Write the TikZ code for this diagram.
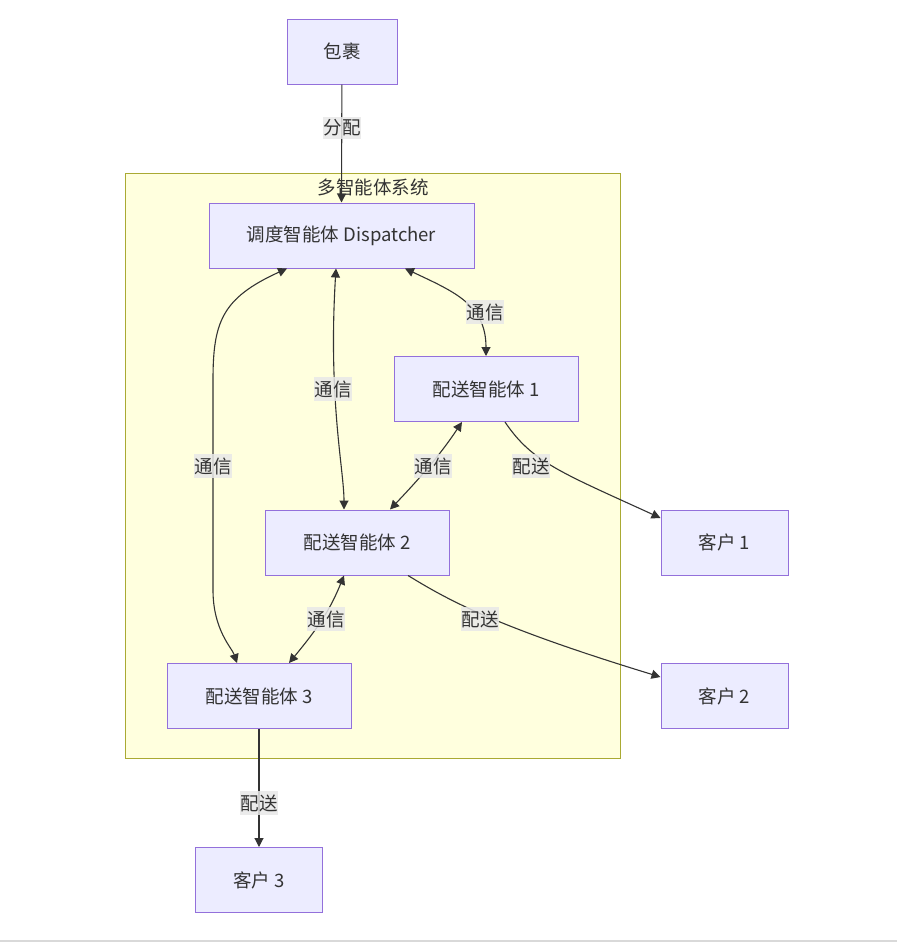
\documentclass[tikz,border=0pt]{standalone}
\usepackage{fontspec}
\setmainfont{Noto Sans CJK SC}
\usepackage{xcolor}
\usetikzlibrary{arrows.meta,positioning,calc}

\definecolor{boxfill}{HTML}{ECECFF}
\definecolor{boxline}{HTML}{9370DB}
\definecolor{groupfill}{HTML}{FFFFDE}
\definecolor{groupline}{HTML}{AAAA33}
\definecolor{edge}{HTML}{333333}
\definecolor{lblfill}{HTML}{E8E8E8}

\begin{document}
\begin{tikzpicture}[x=1pt,y=-1pt,
    box/.style={draw=boxline, fill=boxfill, line width=1pt, minimum height=65pt,
        inner sep=0pt, text=edge, font=\fontsize{18.5}{22}\selectfont},
    lbl/.style={fill=lblfill, fill opacity=0.85, text opacity=1, text=edge,
        inner xsep=0.5pt, inner ysep=3pt, font=\fontsize{18.5}{22}\selectfont},
    link/.style={draw=edge, line width=1.1pt, -{Triangle[length=9pt,width=9pt]}},
    both/.style={link, {Triangle[length=9pt,width=9pt]}-{Triangle[length=9pt,width=9pt]}}]

\useasboundingbox (0,0) rectangle (897,948);
\draw[black!15, line width=1.5pt] (0,941) -- (897,941);

% Multi-agent system group
\draw[groupline, fill=groupfill, line width=1pt] (125,173) rectangle (620,758);
\node[text=edge, font=\fontsize{18.5}{22}\selectfont] (grouptitle) at (373,187) {多智能体系统};

% Nodes
\node[box, minimum width=110pt] (parcel) at (342,51.5) {包裹};
\node[box, minimum width=265pt] (disp) at (341.5,235.5) {调度智能体 Dispatcher};
\node[box, minimum width=184pt] (agentA) at (486,389) {配送智能体 1};
\node[box, minimum width=184pt] (agentB) at (357,542.5) {配送智能体 2};
\node[box, minimum width=184pt] (agentC) at (259,696) {配送智能体 3};
\node[box, minimum width=127pt] (custA) at (724.5,542.5) {客户 1};
\node[box, minimum width=127pt] (custB) at (724.5,696) {客户 2};
\node[box, minimum width=127pt] (custC) at (259,880) {客户 3};

% Connectors
\draw[link] (parcel) -- (disp.north);
\draw[both] ([xshift=63.5pt]disp.south) .. controls (455,292) and (486,305) .. (agentA.north);
\draw[both] ([xshift=-5.5pt]disp.south) .. controls (328,400) and (344,470) .. ([xshift=-13pt]agentB.north);
\draw[both] ([xshift=-54.5pt]disp.south) .. controls (222,298) and (213,322) .. (213,380)
    -- (213,590) .. controls (213,630) and (232,648) .. ([xshift=-22pt]agentC.north);
\draw[both] ([xshift=-24pt]agentA.south) .. controls (440,455) and (420,478) .. ([xshift=33pt]agentB.north);
\draw[link] ([xshift=19pt]agentA.south) .. controls (532,462) and (560,472) .. ([yshift=24.5pt]custA.west);
\draw[both] ([xshift=-13pt]agentB.south) .. controls (330,610) and (318,628) .. ([xshift=30pt]agentC.north);
\draw[link] ([xshift=51pt]agentB.south) .. controls (445,598) and (490,625) .. ([yshift=19pt]custB.west);
\draw[link] (agentC) -- (custC);

% Edge labels
\foreach \n/\x/\y/\t in {l1/342/128/分配, l2/485/312/通信, l3/333/389/通信,
    l4/213/466/通信, l5/433/466/通信, l6/531/466/配送, l7/326/619/通信,
    l8/480/619/配送, l9/259/803/配送} {
    \node[lbl] (\n) at (\x,\y) {\t};
}

\end{tikzpicture}
\end{document}
